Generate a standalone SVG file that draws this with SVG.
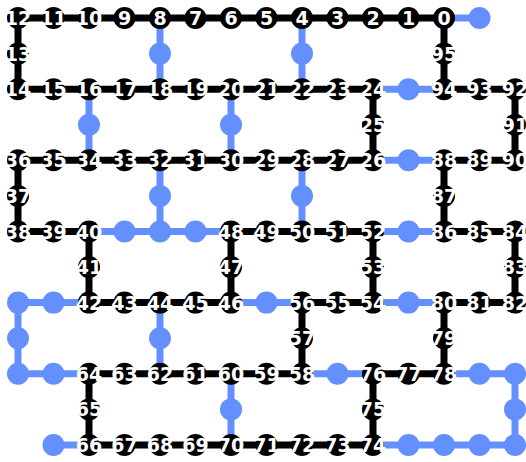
<svg xmlns="http://www.w3.org/2000/svg" width="526" height="462" viewBox="0 0 526 462">
<style>
.ek{stroke:#000;stroke-width:7;fill:none}
.eb{stroke:#648fff;stroke-width:7;fill:none}
.k{fill:#000}
.b{fill:#648fff}
text{font-family:"DejaVu Sans",sans-serif;font-weight:bold;font-size:19px;fill:#fff;text-anchor:middle}
</style>
<rect width="526" height="462" fill="#fff"/>
<g id="edges">
<path class="ek" d="M18 18H53.5"/><path class="ek" d="M53.5 18H89"/><path class="ek" d="M89 18H124.5"/><path class="ek" d="M124.5 18H160"/><path class="ek" d="M160 18H195.5"/><path class="ek" d="M195.5 18H231"/><path class="ek" d="M231 18H266.5"/><path class="ek" d="M266.5 18H302"/><path class="ek" d="M302 18H337.5"/><path class="ek" d="M337.5 18H373"/><path class="ek" d="M373 18H408.5"/><path class="ek" d="M408.5 18H444"/>
<path class="ek" d="M18 18V53.6"/><path class="ek" d="M18 53.6V89.2"/><path class="ek" d="M444 18V53.6"/><path class="ek" d="M444 53.6V89.2"/>
<path class="ek" d="M18 89.2H53.5"/><path class="ek" d="M53.5 89.2H89"/><path class="ek" d="M89 89.2H124.5"/><path class="ek" d="M124.5 89.2H160"/><path class="ek" d="M160 89.2H195.5"/><path class="ek" d="M195.5 89.2H231"/><path class="ek" d="M231 89.2H266.5"/><path class="ek" d="M266.5 89.2H302"/><path class="ek" d="M302 89.2H337.5"/><path class="ek" d="M337.5 89.2H373"/><path class="ek" d="M444 89.2H479.5"/><path class="ek" d="M479.5 89.2H515"/>
<path class="ek" d="M373 89.2V124.7"/><path class="ek" d="M373 124.7V160.3"/><path class="ek" d="M515 89.2V124.7"/><path class="ek" d="M515 124.7V160.3"/>
<path class="ek" d="M18 160.3H53.5"/><path class="ek" d="M53.5 160.3H89"/><path class="ek" d="M89 160.3H124.5"/><path class="ek" d="M124.5 160.3H160"/><path class="ek" d="M160 160.3H195.5"/><path class="ek" d="M195.5 160.3H231"/><path class="ek" d="M231 160.3H266.5"/><path class="ek" d="M266.5 160.3H302"/><path class="ek" d="M302 160.3H337.5"/><path class="ek" d="M337.5 160.3H373"/><path class="ek" d="M444 160.3H479.5"/><path class="ek" d="M479.5 160.3H515"/>
<path class="ek" d="M18 160.3V195.9"/><path class="ek" d="M18 195.9V231.5"/><path class="ek" d="M444 160.3V195.9"/><path class="ek" d="M444 195.9V231.5"/>
<path class="ek" d="M18 231.5H53.5"/><path class="ek" d="M53.5 231.5H89"/><path class="ek" d="M231 231.5H266.5"/><path class="ek" d="M266.5 231.5H302"/><path class="ek" d="M302 231.5H337.5"/><path class="ek" d="M337.5 231.5H373"/><path class="ek" d="M444 231.5H479.5"/><path class="ek" d="M479.5 231.5H515"/>
<path class="ek" d="M89 231.5V267.1"/><path class="ek" d="M89 267.1V302.6"/><path class="ek" d="M231 231.5V267.1"/><path class="ek" d="M231 267.1V302.6"/><path class="ek" d="M373 231.5V267.1"/><path class="ek" d="M373 267.1V302.6"/><path class="ek" d="M515 231.5V267.1"/><path class="ek" d="M515 267.1V302.6"/>
<path class="ek" d="M89 302.6H124.5"/><path class="ek" d="M124.5 302.6H160"/><path class="ek" d="M160 302.6H195.5"/><path class="ek" d="M195.5 302.6H231"/><path class="ek" d="M302 302.6H337.5"/><path class="ek" d="M337.5 302.6H373"/><path class="ek" d="M444 302.6H479.5"/><path class="ek" d="M479.5 302.6H515"/>
<path class="ek" d="M302 302.6V338.2"/><path class="ek" d="M302 338.2V373.8"/><path class="ek" d="M444 302.6V338.2"/><path class="ek" d="M444 338.2V373.8"/>
<path class="ek" d="M89 373.8H124.5"/><path class="ek" d="M124.5 373.8H160"/><path class="ek" d="M160 373.8H195.5"/><path class="ek" d="M195.5 373.8H231"/><path class="ek" d="M231 373.8H266.5"/><path class="ek" d="M266.5 373.8H302"/><path class="ek" d="M373 373.8H408.5"/><path class="ek" d="M408.5 373.8H444"/>
<path class="ek" d="M89 373.8V409.4"/><path class="ek" d="M89 409.4V445"/><path class="ek" d="M373 373.8V409.4"/><path class="ek" d="M373 409.4V445"/>
<path class="ek" d="M89 445H124.5"/><path class="ek" d="M124.5 445H160"/><path class="ek" d="M160 445H195.5"/><path class="ek" d="M195.5 445H231"/><path class="ek" d="M231 445H266.5"/><path class="ek" d="M266.5 445H302"/><path class="ek" d="M302 445H337.5"/><path class="ek" d="M337.5 445H373"/>
<path class="eb" d="M444 18H479.5"/>
<path class="eb" d="M160 18V53.6"/><path class="eb" d="M160 53.6V89.2"/><path class="eb" d="M302 18V53.6"/><path class="eb" d="M302 53.6V89.2"/>
<path class="eb" d="M373 89.2H408.5"/><path class="eb" d="M408.5 89.2H444"/>
<path class="eb" d="M89 89.2V124.7"/><path class="eb" d="M89 124.7V160.3"/><path class="eb" d="M231 89.2V124.7"/><path class="eb" d="M231 124.7V160.3"/>
<path class="eb" d="M373 160.3H408.5"/><path class="eb" d="M408.5 160.3H444"/>
<path class="eb" d="M160 160.3V195.9"/><path class="eb" d="M160 195.9V231.5"/><path class="eb" d="M302 160.3V195.9"/><path class="eb" d="M302 195.9V231.5"/>
<path class="eb" d="M89 231.5H124.5"/><path class="eb" d="M124.5 231.5H160"/><path class="eb" d="M160 231.5H195.5"/><path class="eb" d="M195.5 231.5H231"/><path class="eb" d="M373 231.5H408.5"/><path class="eb" d="M408.5 231.5H444"/>
<path class="eb" d="M18 302.6H53.5"/><path class="eb" d="M53.5 302.6H89"/><path class="eb" d="M231 302.6H266.5"/><path class="eb" d="M266.5 302.6H302"/><path class="eb" d="M373 302.6H408.5"/><path class="eb" d="M408.5 302.6H444"/>
<path class="eb" d="M18 302.6V338.2"/><path class="eb" d="M18 338.2V373.8"/><path class="eb" d="M160 302.6V338.2"/><path class="eb" d="M160 338.2V373.8"/>
<path class="eb" d="M18 373.8H53.5"/><path class="eb" d="M53.5 373.8H89"/><path class="eb" d="M302 373.8H337.5"/><path class="eb" d="M337.5 373.8H373"/><path class="eb" d="M444 373.8H479.5"/><path class="eb" d="M479.5 373.8H515"/>
<path class="eb" d="M231 373.8V409.4"/><path class="eb" d="M231 409.4V445"/><path class="eb" d="M515 373.8V409.4"/><path class="eb" d="M515 409.4V445"/>
<path class="eb" d="M53.5 445H89"/><path class="eb" d="M373 445H408.5"/><path class="eb" d="M408.5 445H444"/><path class="eb" d="M444 445H479.5"/><path class="eb" d="M479.5 445H515"/>
</g>
<g id="nodes">
<g id="b0"><circle class="b" cx="479.5" cy="18" r="11"/></g>
<g id="b1"><circle class="b" cx="160" cy="53.6" r="11"/></g>
<g id="b2"><circle class="b" cx="302" cy="53.6" r="11"/></g>
<g id="b3"><circle class="b" cx="408.5" cy="89.2" r="11"/></g>
<g id="b4"><circle class="b" cx="89" cy="124.7" r="11"/></g>
<g id="b5"><circle class="b" cx="231" cy="124.7" r="11"/></g>
<g id="b6"><circle class="b" cx="408.5" cy="160.3" r="11"/></g>
<g id="b7"><circle class="b" cx="160" cy="195.9" r="11"/></g>
<g id="b8"><circle class="b" cx="302" cy="195.9" r="11"/></g>
<g id="b9"><circle class="b" cx="124.5" cy="231.5" r="11"/></g>
<g id="b10"><circle class="b" cx="160" cy="231.5" r="11"/></g>
<g id="b11"><circle class="b" cx="195.5" cy="231.5" r="11"/></g>
<g id="b12"><circle class="b" cx="408.5" cy="231.5" r="11"/></g>
<g id="b13"><circle class="b" cx="18" cy="302.6" r="11"/></g>
<g id="b14"><circle class="b" cx="53.5" cy="302.6" r="11"/></g>
<g id="b15"><circle class="b" cx="266.5" cy="302.6" r="11"/></g>
<g id="b16"><circle class="b" cx="408.5" cy="302.6" r="11"/></g>
<g id="b17"><circle class="b" cx="18" cy="338.2" r="11"/></g>
<g id="b18"><circle class="b" cx="160" cy="338.2" r="11"/></g>
<g id="b19"><circle class="b" cx="18" cy="373.8" r="11"/></g>
<g id="b20"><circle class="b" cx="53.5" cy="373.8" r="11"/></g>
<g id="b21"><circle class="b" cx="337.5" cy="373.8" r="11"/></g>
<g id="b22"><circle class="b" cx="479.5" cy="373.8" r="11"/></g>
<g id="b23"><circle class="b" cx="515" cy="373.8" r="11"/></g>
<g id="b24"><circle class="b" cx="231" cy="409.4" r="11"/></g>
<g id="b25"><circle class="b" cx="515" cy="409.4" r="11"/></g>
<g id="b26"><circle class="b" cx="53.5" cy="445" r="11"/></g>
<g id="b27"><circle class="b" cx="408.5" cy="445" r="11"/></g>
<g id="b28"><circle class="b" cx="444" cy="445" r="11"/></g>
<g id="b29"><circle class="b" cx="479.5" cy="445" r="11"/></g>
<g id="b30"><circle class="b" cx="515" cy="445" r="11"/></g>

<g id="n12"><circle class="k" cx="18" cy="18" r="11"/><text x="18" y="25">12</text></g>
<g id="n11"><circle class="k" cx="53.5" cy="18" r="11"/><text x="53.5" y="25">11</text></g>
<g id="n10"><circle class="k" cx="89" cy="18" r="11"/><text x="89" y="25">10</text></g>
<g id="n9"><circle class="k" cx="124.5" cy="18" r="11"/><text x="124.5" y="25">9</text></g>
<g id="n8"><circle class="k" cx="160" cy="18" r="11"/><text x="160" y="25">8</text></g>
<g id="n7"><circle class="k" cx="195.5" cy="18" r="11"/><text x="195.5" y="25">7</text></g>
<g id="n6"><circle class="k" cx="231" cy="18" r="11"/><text x="231" y="25">6</text></g>
<g id="n5"><circle class="k" cx="266.5" cy="18" r="11"/><text x="266.5" y="25">5</text></g>
<g id="n4"><circle class="k" cx="302" cy="18" r="11"/><text x="302" y="25">4</text></g>
<g id="n3"><circle class="k" cx="337.5" cy="18" r="11"/><text x="337.5" y="25">3</text></g>
<g id="n2"><circle class="k" cx="373" cy="18" r="11"/><text x="373" y="25">2</text></g>
<g id="n1"><circle class="k" cx="408.5" cy="18" r="11"/><text x="408.5" y="25">1</text></g>
<g id="n0"><circle class="k" cx="444" cy="18" r="11"/><text x="444" y="25">0</text></g>
<g id="n13"><circle class="k" cx="18" cy="53.6" r="11"/><text x="18" y="60.6">13</text></g>
<g id="n95"><circle class="k" cx="444" cy="53.6" r="11"/><text x="444" y="60.6">95</text></g>
<g id="n14"><circle class="k" cx="18" cy="89.2" r="11"/><text x="18" y="96.2">14</text></g>
<g id="n15"><circle class="k" cx="53.5" cy="89.2" r="11"/><text x="53.5" y="96.2">15</text></g>
<g id="n16"><circle class="k" cx="89" cy="89.2" r="11"/><text x="89" y="96.2">16</text></g>
<g id="n17"><circle class="k" cx="124.5" cy="89.2" r="11"/><text x="124.5" y="96.2">17</text></g>
<g id="n18"><circle class="k" cx="160" cy="89.2" r="11"/><text x="160" y="96.2">18</text></g>
<g id="n19"><circle class="k" cx="195.5" cy="89.2" r="11"/><text x="195.5" y="96.2">19</text></g>
<g id="n20"><circle class="k" cx="231" cy="89.2" r="11"/><text x="231" y="96.2">20</text></g>
<g id="n21"><circle class="k" cx="266.5" cy="89.2" r="11"/><text x="266.5" y="96.2">21</text></g>
<g id="n22"><circle class="k" cx="302" cy="89.2" r="11"/><text x="302" y="96.2">22</text></g>
<g id="n23"><circle class="k" cx="337.5" cy="89.2" r="11"/><text x="337.5" y="96.2">23</text></g>
<g id="n24"><circle class="k" cx="373" cy="89.2" r="11"/><text x="373" y="96.2">24</text></g>
<g id="n94"><circle class="k" cx="444" cy="89.2" r="11"/><text x="444" y="96.2">94</text></g>
<g id="n93"><circle class="k" cx="479.5" cy="89.2" r="11"/><text x="479.5" y="96.2">93</text></g>
<g id="n92"><circle class="k" cx="515" cy="89.2" r="11"/><text x="515" y="96.2">92</text></g>
<g id="n25"><circle class="k" cx="373" cy="124.7" r="11"/><text x="373" y="131.7">25</text></g>
<g id="n91"><circle class="k" cx="515" cy="124.7" r="11"/><text x="515" y="131.7">91</text></g>
<g id="n36"><circle class="k" cx="18" cy="160.3" r="11"/><text x="18" y="167.3">36</text></g>
<g id="n35"><circle class="k" cx="53.5" cy="160.3" r="11"/><text x="53.5" y="167.3">35</text></g>
<g id="n34"><circle class="k" cx="89" cy="160.3" r="11"/><text x="89" y="167.3">34</text></g>
<g id="n33"><circle class="k" cx="124.5" cy="160.3" r="11"/><text x="124.5" y="167.3">33</text></g>
<g id="n32"><circle class="k" cx="160" cy="160.3" r="11"/><text x="160" y="167.3">32</text></g>
<g id="n31"><circle class="k" cx="195.5" cy="160.3" r="11"/><text x="195.5" y="167.3">31</text></g>
<g id="n30"><circle class="k" cx="231" cy="160.3" r="11"/><text x="231" y="167.3">30</text></g>
<g id="n29"><circle class="k" cx="266.5" cy="160.3" r="11"/><text x="266.5" y="167.3">29</text></g>
<g id="n28"><circle class="k" cx="302" cy="160.3" r="11"/><text x="302" y="167.3">28</text></g>
<g id="n27"><circle class="k" cx="337.5" cy="160.3" r="11"/><text x="337.5" y="167.3">27</text></g>
<g id="n26"><circle class="k" cx="373" cy="160.3" r="11"/><text x="373" y="167.3">26</text></g>
<g id="n88"><circle class="k" cx="444" cy="160.3" r="11"/><text x="444" y="167.3">88</text></g>
<g id="n89"><circle class="k" cx="479.5" cy="160.3" r="11"/><text x="479.5" y="167.3">89</text></g>
<g id="n90"><circle class="k" cx="515" cy="160.3" r="11"/><text x="515" y="167.3">90</text></g>
<g id="n37"><circle class="k" cx="18" cy="195.9" r="11"/><text x="18" y="202.9">37</text></g>
<g id="n87"><circle class="k" cx="444" cy="195.9" r="11"/><text x="444" y="202.9">87</text></g>
<g id="n38"><circle class="k" cx="18" cy="231.5" r="11"/><text x="18" y="238.5">38</text></g>
<g id="n39"><circle class="k" cx="53.5" cy="231.5" r="11"/><text x="53.5" y="238.5">39</text></g>
<g id="n40"><circle class="k" cx="89" cy="231.5" r="11"/><text x="89" y="238.5">40</text></g>
<g id="n48"><circle class="k" cx="231" cy="231.5" r="11"/><text x="231" y="238.5">48</text></g>
<g id="n49"><circle class="k" cx="266.5" cy="231.5" r="11"/><text x="266.5" y="238.5">49</text></g>
<g id="n50"><circle class="k" cx="302" cy="231.5" r="11"/><text x="302" y="238.5">50</text></g>
<g id="n51"><circle class="k" cx="337.5" cy="231.5" r="11"/><text x="337.5" y="238.5">51</text></g>
<g id="n52"><circle class="k" cx="373" cy="231.5" r="11"/><text x="373" y="238.5">52</text></g>
<g id="n86"><circle class="k" cx="444" cy="231.5" r="11"/><text x="444" y="238.5">86</text></g>
<g id="n85"><circle class="k" cx="479.5" cy="231.5" r="11"/><text x="479.5" y="238.5">85</text></g>
<g id="n84"><circle class="k" cx="515" cy="231.5" r="11"/><text x="515" y="238.5">84</text></g>
<g id="n41"><circle class="k" cx="89" cy="267.1" r="11"/><text x="89" y="274.1">41</text></g>
<g id="n47"><circle class="k" cx="231" cy="267.1" r="11"/><text x="231" y="274.1">47</text></g>
<g id="n53"><circle class="k" cx="373" cy="267.1" r="11"/><text x="373" y="274.1">53</text></g>
<g id="n83"><circle class="k" cx="515" cy="267.1" r="11"/><text x="515" y="274.1">83</text></g>
<g id="n42"><circle class="k" cx="89" cy="302.6" r="11"/><text x="89" y="309.6">42</text></g>
<g id="n43"><circle class="k" cx="124.5" cy="302.6" r="11"/><text x="124.5" y="309.6">43</text></g>
<g id="n44"><circle class="k" cx="160" cy="302.6" r="11"/><text x="160" y="309.6">44</text></g>
<g id="n45"><circle class="k" cx="195.5" cy="302.6" r="11"/><text x="195.5" y="309.6">45</text></g>
<g id="n46"><circle class="k" cx="231" cy="302.6" r="11"/><text x="231" y="309.6">46</text></g>
<g id="n56"><circle class="k" cx="302" cy="302.6" r="11"/><text x="302" y="309.6">56</text></g>
<g id="n55"><circle class="k" cx="337.5" cy="302.6" r="11"/><text x="337.5" y="309.6">55</text></g>
<g id="n54"><circle class="k" cx="373" cy="302.6" r="11"/><text x="373" y="309.6">54</text></g>
<g id="n80"><circle class="k" cx="444" cy="302.6" r="11"/><text x="444" y="309.6">80</text></g>
<g id="n81"><circle class="k" cx="479.5" cy="302.6" r="11"/><text x="479.5" y="309.6">81</text></g>
<g id="n82"><circle class="k" cx="515" cy="302.6" r="11"/><text x="515" y="309.6">82</text></g>
<g id="n57"><circle class="k" cx="302" cy="338.2" r="11"/><text x="302" y="345.2">57</text></g>
<g id="n79"><circle class="k" cx="444" cy="338.2" r="11"/><text x="444" y="345.2">79</text></g>
<g id="n64"><circle class="k" cx="89" cy="373.8" r="11"/><text x="89" y="380.8">64</text></g>
<g id="n63"><circle class="k" cx="124.5" cy="373.8" r="11"/><text x="124.5" y="380.8">63</text></g>
<g id="n62"><circle class="k" cx="160" cy="373.8" r="11"/><text x="160" y="380.8">62</text></g>
<g id="n61"><circle class="k" cx="195.5" cy="373.8" r="11"/><text x="195.5" y="380.8">61</text></g>
<g id="n60"><circle class="k" cx="231" cy="373.8" r="11"/><text x="231" y="380.8">60</text></g>
<g id="n59"><circle class="k" cx="266.5" cy="373.8" r="11"/><text x="266.5" y="380.8">59</text></g>
<g id="n58"><circle class="k" cx="302" cy="373.8" r="11"/><text x="302" y="380.8">58</text></g>
<g id="n76"><circle class="k" cx="373" cy="373.8" r="11"/><text x="373" y="380.8">76</text></g>
<g id="n77"><circle class="k" cx="408.5" cy="373.8" r="11"/><text x="408.5" y="380.8">77</text></g>
<g id="n78"><circle class="k" cx="444" cy="373.8" r="11"/><text x="444" y="380.8">78</text></g>
<g id="n65"><circle class="k" cx="89" cy="409.4" r="11"/><text x="89" y="416.4">65</text></g>
<g id="n75"><circle class="k" cx="373" cy="409.4" r="11"/><text x="373" y="416.4">75</text></g>
<g id="n66"><circle class="k" cx="89" cy="445" r="11"/><text x="89" y="452">66</text></g>
<g id="n67"><circle class="k" cx="124.5" cy="445" r="11"/><text x="124.5" y="452">67</text></g>
<g id="n68"><circle class="k" cx="160" cy="445" r="11"/><text x="160" y="452">68</text></g>
<g id="n69"><circle class="k" cx="195.5" cy="445" r="11"/><text x="195.5" y="452">69</text></g>
<g id="n70"><circle class="k" cx="231" cy="445" r="11"/><text x="231" y="452">70</text></g>
<g id="n71"><circle class="k" cx="266.5" cy="445" r="11"/><text x="266.5" y="452">71</text></g>
<g id="n72"><circle class="k" cx="302" cy="445" r="11"/><text x="302" y="452">72</text></g>
<g id="n73"><circle class="k" cx="337.5" cy="445" r="11"/><text x="337.5" y="452">73</text></g>
<g id="n74"><circle class="k" cx="373" cy="445" r="11"/><text x="373" y="452">74</text></g>
</g>
</svg>
